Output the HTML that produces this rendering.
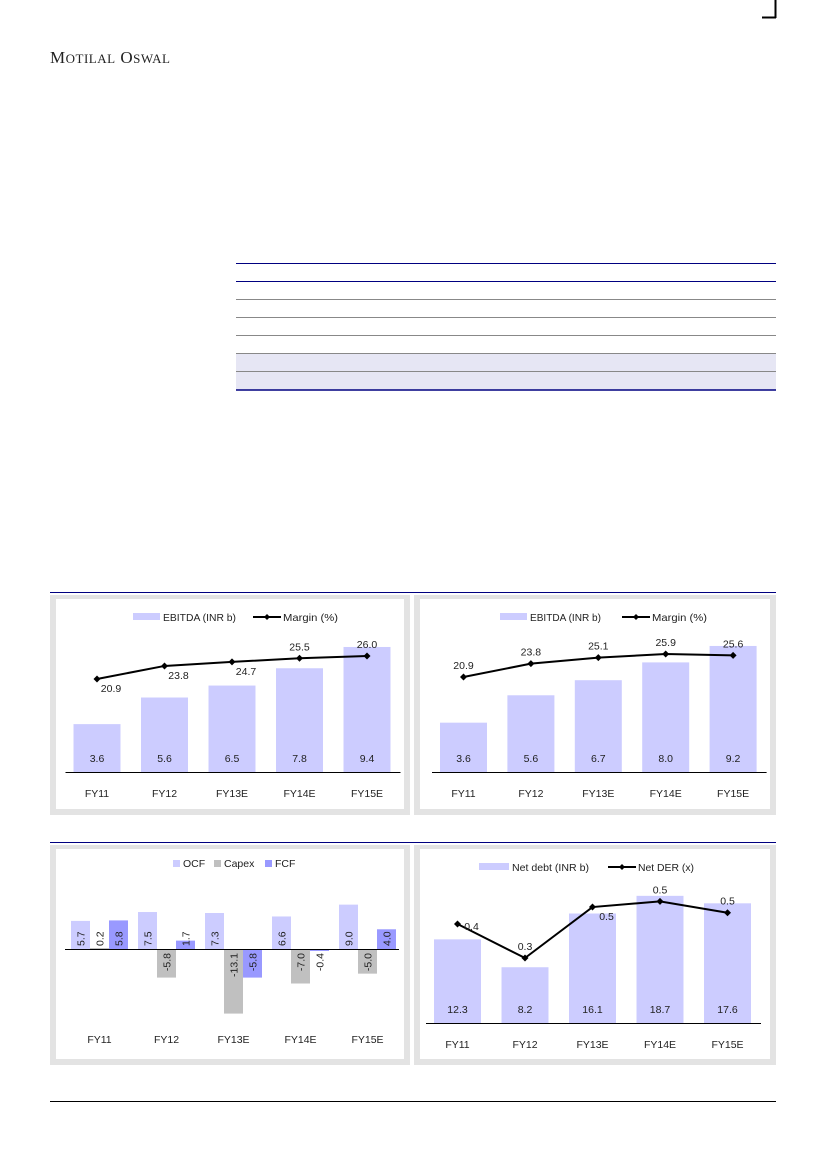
<!DOCTYPE html>
<html><head><meta charset="utf-8"><style>
html,body{margin:0;padding:0;background:#fff;}
svg{display:block;font-family:"Liberation Sans",sans-serif;}
</style></head><body>
<svg id="page" width="826" height="1169" viewBox="0 0 826 1169" xmlns="http://www.w3.org/2000/svg">
<g><line x1="775.5" y1="0" x2="775.5" y2="18" stroke="#000" stroke-width="2"/><line x1="762" y1="17.5" x2="776" y2="17.5" stroke="#000" stroke-width="2"/></g>
<text x="50" y="63" font-family="Liberation Serif,serif" font-size="17" fill="#222" letter-spacing="0.5">M<tspan font-size="13">OTILAL</tspan> O<tspan font-size="13">SWAL</tspan></text>
<g>
<rect x="236" y="353" width="540" height="37" fill="#e6e6f4"/>
<line x1="236" y1="263.5" x2="776" y2="263.5" stroke="#000080"/>
<line x1="236" y1="281.5" x2="776" y2="281.5" stroke="#000080"/>
<line x1="236" y1="299.5" x2="776" y2="299.5" stroke="#888"/>
<line x1="236" y1="317.5" x2="776" y2="317.5" stroke="#888"/>
<line x1="236" y1="335.5" x2="776" y2="335.5" stroke="#888"/>
<line x1="236" y1="353.5" x2="776" y2="353.5" stroke="#888"/>
<line x1="236" y1="371.5" x2="776" y2="371.5" stroke="#888"/>
<line x1="236" y1="390" x2="776" y2="390" stroke="#000080" stroke-width="1.5"/>
</g>
<line x1="50" y1="592.5" x2="776" y2="592.5" stroke="#000080"/>
<line x1="50" y1="842.5" x2="776" y2="842.5" stroke="#000080"/>
<rect x="50" y="595" width="360" height="220" fill="#e3e3e3"/>
<rect x="56" y="599" width="348" height="210" fill="#fff"/>
<rect x="414" y="595" width="362" height="220" fill="#e3e3e3"/>
<rect x="420" y="599" width="350" height="210" fill="#fff"/>
<rect x="50" y="845" width="360" height="220" fill="#e3e3e3"/>
<rect x="56" y="849" width="348" height="210" fill="#fff"/>
<rect x="414" y="845" width="362" height="220" fill="#e3e3e3"/>
<rect x="420" y="849" width="350" height="210" fill="#fff"/>
<line x1="50" y1="1101.5" x2="776" y2="1101.5" stroke="#000"/>
<g id="charts"></g>
</svg>
<script>
const cats = ['FY11','FY12','FY13E','FY14E','FY15E'];
const ebitda1 = [3.6,5.6,6.5,7.8,9.4];
const margin1 = [20.9,23.8,24.7,25.5,26.0];
const margin1Pos = ['below','below','below','above','above'];
const ebitda2 = [3.6,5.6,6.7,8.0,9.2];
const margin2 = [20.9,23.8,25.1,25.9,25.6];
const ocf = [5.7,7.5,7.3,6.6,9.0];
const capex = [0.2,-5.8,-13.1,-7.0,-5.0];
const fcf = [5.8,1.7,-5.8,-0.4,4.0];
const netDebt = [12.3,8.2,16.1,18.7,17.6];
const netDer = [0.42,0.30,0.48,0.50,0.46];
const derPos = ['right','above','below','above','above'];

const NS='http://www.w3.org/2000/svg';
const root=document.getElementById('charts');
function mk(tag,attrs,parent){const e=document.createElementNS(NS,tag);for(const k in attrs)e.setAttribute(k,attrs[k]);(parent||root).appendChild(e);return e;}
function txt(x,y,s,parent,extra){const t=mk('text',Object.assign({x:x,y:y,'font-size':10.5,fill:'#222','text-anchor':'middle'},extra||{}),parent);t.textContent=s;return t;}

function barLineChart(name,x0,step,bw,base,barScale,bars,line,lineY,lineLabelPos,legend,L,legendLabels){
  const g=mk('g',{});
  
  
  const xc=i=>x0+i*step;
  const lg=mk('g',{},g);
  
  
  mk('rect',{x:L[0],y:legend-4,width:L[1],height:7,fill:'#ccccff'},lg);
  txt(L[0]+L[1]+3,legend+4,legendLabels[0],lg,{'text-anchor':'start',textLength:L[3],lengthAdjust:'spacingAndGlyphs'});
  mk('line',{x1:L[2],y1:legend,x2:L[2]+28,y2:legend,stroke:'#000','stroke-width':2},lg);
  mk('path',{d:`M${L[2]+14} ${legend-3}l3 3l-3 3l-3 -3z`,fill:'#000'},lg);
  txt(L[2]+30,legend+4,legendLabels[1],lg,{'text-anchor':'start',textLength:L[4],lengthAdjust:'spacingAndGlyphs'});
  bars.forEach((v,i)=>{
    const h=v*barScale;
    const r=mk('rect',{x:xc(i)-bw/2,y:base-h,width:bw,height:h,fill:'#ccccff'},g);
    
    
    txt(xc(i),base-10,v.toFixed(1),g);
    const c=txt(xc(i),base+25,cats[i],g,{'font-size':10.5});
    
    
  });
  mk('line',{x1:x0-bw/2-8,y1:base+0.5,x2:x0+4*step+bw/2+10,y2:base+0.5,stroke:'#000'},g);
  const pts=line.map((v,i)=>[xc(i),lineY(v)]);
  const pl=mk('polyline',{points:pts.map(p=>p.join(',')).join(' '),fill:'none',stroke:'#000','stroke-width':2},g);
  
  
  pts.forEach((p,i)=>{
    mk('path',{d:`M${p[0]} ${p[1]-3.5}l3.5 3.5l-3.5 3.5l-3.5 -3.5z`,fill:'#000'},g);
    const pos=lineLabelPos[i];
    let lx=p[0],ly=p[1]-8;
    if(pos==='below'){lx=p[0]+14;ly=p[1]+13;}
    if(pos==='right'){lx=p[0]+14;ly=p[1]+6;}
    txt(lx,ly,line[i].toFixed(1),g);
  });
}

barLineChart('ebitda-margin-chart-1',97,67.5,47,772,13.3,ebitda1,margin1,v=>679-(v-20.9)*4.5,margin1Pos,617,[133,27,253,73,55],['EBITDA (INR b)','Margin (%)']);
barLineChart('ebitda-margin-chart-2',463.5,67.4,47,772,13.7,ebitda2,margin2,v=>677-(v-20.9)*4.6,['above','above','above','above','above'],617,[500,27,622,71,55],['EBITDA (INR b)','Margin (%)']);
barLineChart('net-debt-chart',457.5,67.5,47,1023,6.8,netDebt,netDer,v=>958-(v-0.3)*283,derPos,867,[479,30,608,77,56],['Net debt (INR b)','Net DER (x)']);

(function(){
  const g=mk('g',{});
  
  
  const base=949, sc=4.93, x0=71, step=67, bw=19;
  const series=[[ocf,'#ccccff','OCF'],[capex,'#c0c0c0','Capex'],[fcf,'#9999ff','FCF']];
  const lg=mk('g',{},g);
  
  
  const lx=[173,214,265];
  series.forEach((s,k)=>{mk('rect',{x:lx[k],y:860,width:7,height:7,fill:s[1]},lg);txt(lx[k]+10,867,s[2],lg,{'text-anchor':'start'});});
  cats.forEach((c,i)=>{
    series.forEach((s,k)=>{
      const v=s[0][i];const h=Math.abs(v)*sc;
      const x=x0+i*step+k*bw;
      const r=mk('rect',{x:x,y:v>=0?base-h:base,width:bw,height:h,fill:s[1]},g);
      
      
      const cx=x+bw/2+4;
      const ty=v>=0?base-3:base+4;
      txt(cx,ty,v.toFixed(1),g,{'text-anchor':v>=0?'start':'end',transform:`rotate(-90 ${cx} ${ty})`});
    });
    const t=txt(x0+i*step+28.5,1043,c,g,{'font-size':10.5});
    
    
  });
  mk('line',{x1:65,y1:base+0.5,x2:399,y2:base+0.5,stroke:'#000'},g);
})();
</script>
</body></html>
